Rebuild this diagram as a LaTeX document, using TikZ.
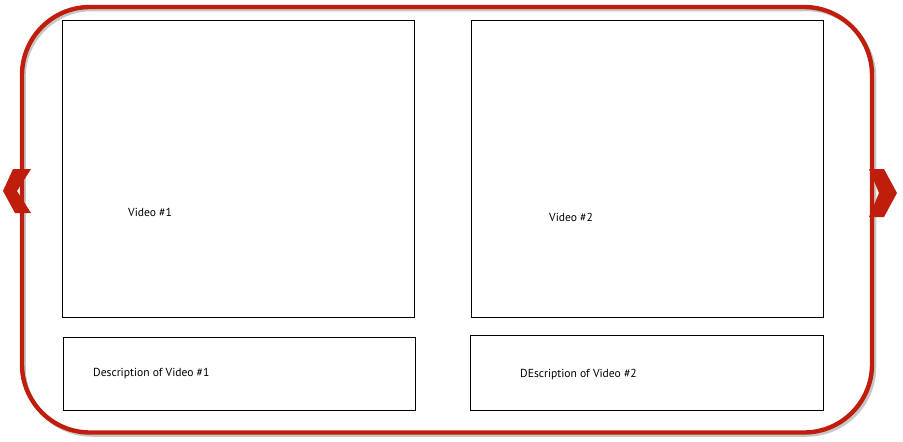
\documentclass[tikz,border=0pt]{standalone}
\usepackage{fontspec}
\setmainfont{PT Sans}
\definecolor{frame}{RGB}{192,30,12}
\begin{document}
\begin{tikzpicture}[x=1pt,y=-1pt,
  panel/.style={draw=black,line width=0.8pt},
  label/.style={font=\fontsize{11.6}{13}\selectfont,inner sep=0pt,anchor=west},
  chev/.style={fill=frame,draw=none}]
\useasboundingbox (0,0) rectangle (903,442);
% shadow and frame
\draw[black!22,line width=3.5pt,rounded corners=68pt] (24,9.5) rectangle (874.5,435);
\draw[frame,line width=4.4pt,rounded corners=68pt] (22,7) rectangle (872,432.5);
% panels
\node[panel,minimum width=352pt,minimum height=297pt,anchor=north west,inner sep=0pt] (v1) at (62,20) {};
\node[panel,minimum width=352pt,minimum height=297pt,anchor=north west,inner sep=0pt] (v2) at (471,20) {};
\node[panel,minimum width=352pt,minimum height=73pt,anchor=north west,inner sep=0pt] (d1) at (63,337) {};
\node[panel,minimum width=353pt,minimum height=75pt,anchor=north west,inner sep=0pt] (d2) at (470,335) {};
% labels
\node[label] (t1) at (128,212) {Video \#1};
\node[label] (t2) at (549,217) {Video \#2};
\node[label] (t3) at (93,373.5) {Description of Video \#1};
\node[label] (t4) at (520,374.5) {DEscription of Video \#2};
% chevrons
\fill[chev] (13,169) -- (31,169) -- (17,191) -- (31,213) -- (15,213) -- (3,191) -- cycle;
\fill[chev] (869,169) -- (884,169) -- (897,193) -- (884,217) -- (869,217) -- (879,193) -- cycle;
\end{tikzpicture}
\end{document}
